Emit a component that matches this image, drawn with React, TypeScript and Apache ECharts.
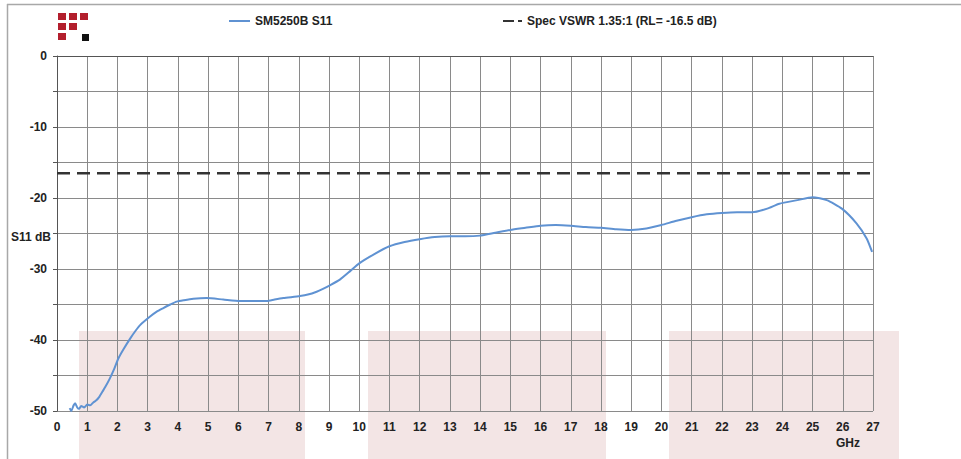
import React, { useEffect, useRef } from "react";
import * as echarts from "echarts";

const freqGHz = [
  0.42, 0.47, 0.55, 0.6, 0.67, 0.73, 0.8, 0.9, 1.0, 1.1, 1.2, 1.3, 1.4, 1.5, 1.6, 1.75, 1.9, 2.03, 2.2, 2.42,
  2.6, 2.75, 3.08, 3.3, 3.52, 3.75, 3.96, 4.2, 4.51, 4.95, 5.5, 6.06, 6.5, 6.94, 7.2, 7.49, 8.04, 8.3, 8.59,
  8.8, 9.03, 9.36, 9.7, 10.0, 10.5, 11.0, 11.5, 12.0, 12.5, 13.0, 13.5, 14.0, 14.5, 15.0, 15.5, 16.0, 16.5,
  17.0, 17.5, 18.0, 18.5, 19.0, 19.5, 20.0, 20.5, 21.0, 21.5, 22.0, 22.5, 23.0, 23.5, 23.9, 24.5, 25.0,
  25.47, 25.97, 26.46, 26.79, 26.97,
];
const s11dB = [
  -49.6, -50.0, -49.2, -48.9, -49.5, -49.7, -49.3, -49.5, -49.1, -49.2, -48.8, -48.5, -48.0, -47.3, -46.6,
  -45.4, -44.0, -42.6, -41.3, -39.8, -38.7, -37.9, -36.7, -36.0, -35.5, -35.0, -34.6, -34.4, -34.2, -34.1,
  -34.3, -34.5, -34.5, -34.5, -34.3, -34.1, -33.8, -33.6, -33.2, -32.8, -32.3, -31.5, -30.3, -29.2, -27.9,
  -26.8, -26.2, -25.8, -25.5, -25.4, -25.4, -25.3, -24.9, -24.5, -24.2, -23.9, -23.8, -23.9, -24.1, -24.2,
  -24.4, -24.5, -24.3, -23.8, -23.2, -22.7, -22.3, -22.1, -22.0, -22.0, -21.5, -20.8, -20.3, -19.9, -20.3,
  -21.5, -23.6, -25.7, -27.6,
];
const specX = [0, 27];
const specdB = [-16.5, -16.5];

const seriesName = "SM5250B S11";
const specName = "Spec VSWR 1.35:1 (RL= -16.5 dB)";
const xTitle = "GHz";
const yTitle = "S11 dB";

const FONT = "'Liberation Sans', Arial, sans-serif";

export default function App() {
  const ref = useRef<HTMLDivElement>(null);
  useEffect(() => {
    document.body.style.margin = "0";
    if (!ref.current) return;
    const chart = echarts.init(ref.current, null, { renderer: "svg" });
    const pink = "#f3e5e5";
    const red = "#b31f2d";
    const blue = "#5f92d2";
    const logo = [
      [58, 13, red], [69, 13, red], [80, 13, red],
      [58, 23, red], [69, 23, red],
      [58, 33, red], [82, 34, "#111"],
    ];
    const legendText = { fontFamily: FONT, fontSize: 12, fontWeight: "bold", color: "#222" };
    chart.setOption({
      animation: false,
      backgroundColor: "#fff",
      textStyle: { fontFamily: FONT },
      grid: { left: 57, right: 88, top: 56, bottom: 48 },
      legend: [
        {
          left: 224, top: 10, itemWidth: 21, itemHeight: 2,
          data: [{ name: seriesName, icon: "rect", itemStyle: { color: blue } }],
          textStyle: legendText,
        },
        {
          left: 498, top: 10, itemWidth: 19, itemHeight: 2,
          data: [{
            name: specName,
            icon: "path://M0,0h11v2h-11z M15,0h4v2h-4z",
            itemStyle: { color: "#333" },
          }],
          textStyle: legendText,
        },
      ],
      xAxis: {
        type: "value", min: 0, max: 27, interval: 1,
        axisLine: { lineStyle: { color: "#555", width: 1 } },
        axisTick: { show: false },
        axisLabel: { fontFamily: FONT, fontSize: 12, fontWeight: "bold", color: "#222", margin: 10 },
        splitLine: { show: true, lineStyle: { color: "#8a8a8a", width: 1 } },
      },
      yAxis: {
        type: "value", min: -50, max: 0, interval: 5,
        axisLine: { show: true, lineStyle: { color: "#555", width: 1 } },
        axisTick: { show: true, length: 4, lineStyle: { color: "#555" } },
        axisLabel: {
          fontFamily: FONT, fontSize: 12, fontWeight: "bold", color: "#222", margin: 10,
          formatter: (v: number) => (v % 10 === 0 ? String(v) : ""),
        },
        splitLine: { show: true, lineStyle: { color: "#8a8a8a", width: 1 } },
      },
      graphic: [
        { type: "rect", z: -10, shape: { x: 79, y: 331, width: 226, height: 140 }, style: { fill: pink } },
        { type: "rect", z: -10, shape: { x: 368, y: 331, width: 238, height: 140 }, style: { fill: pink } },
        { type: "rect", z: -10, shape: { x: 669, y: 331, width: 230, height: 140 }, style: { fill: pink } },
        { type: "line", shape: { x1: 7, y1: 4.5, x2: 961, y2: 4.5 }, style: { stroke: "#a8a8a8", lineWidth: 1.5 } },
        { type: "line", shape: { x1: 7.5, y1: 4, x2: 7.5, y2: 459 }, style: { stroke: "#a8a8a8", lineWidth: 1.5 } },
        ...logo.map(([x, y, c]) => ({
          type: "rect", shape: { x, y, width: c === red ? 8 : 7, height: 7 }, style: { fill: c },
        })),
        {
          type: "text", x: 51, y: 237,
          style: { text: yTitle, font: `bold 12px ${FONT}`, fill: "#222", align: "right", verticalAlign: "middle" },
        },
        {
          type: "text", x: 848, y: 443,
          style: { text: xTitle, font: `bold 12px ${FONT}`, fill: "#222", align: "center", verticalAlign: "middle" },
        },
      ],
      series: [
        {
          name: seriesName, type: "line", symbol: "none", smooth: 0.2,
          data: freqGHz.map((f, i) => [f, s11dB[i]]),
          lineStyle: { color: blue, width: 2 },
          itemStyle: { color: blue },
          z: 4,
        },
        {
          name: specName, type: "line", symbol: "none",
          data: specX.map((f, i) => [f, specdB[i]]),
          lineStyle: { color: "#333", width: 2.5, type: [13, 7] },
          itemStyle: { color: "#333" },
          z: 3,
        },
      ],
    });
    return () => chart.dispose();
  }, []);
  return <div ref={ref} style={{ width: 961, height: 459 }} />;
}
